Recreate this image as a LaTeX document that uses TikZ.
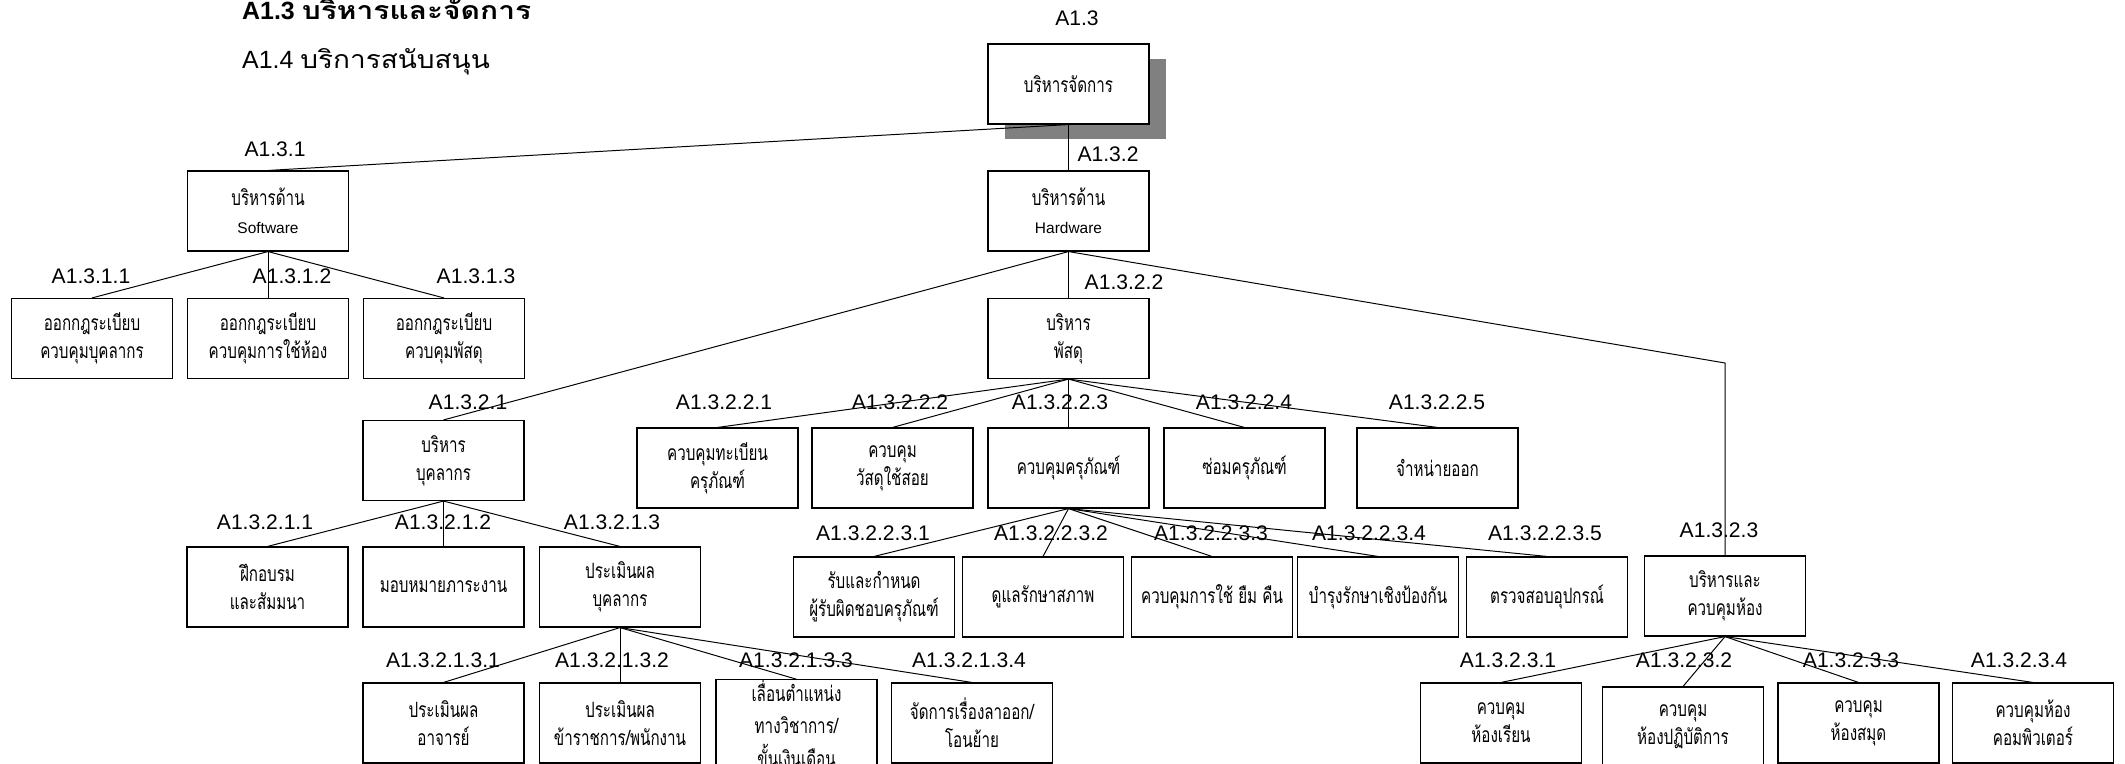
\documentclass[tikz,border=0pt]{standalone}
\usepackage{fontspec}
\setmainfont{Liberation Sans}
\newfontfamily\titlethai[Script=Thai,FakeStretch=1.12]{Loma}
\newfontfamily\titlethaiwide[Script=Thai,FakeStretch=1.2]{Loma}
\newfontfamily\boxthai[Script=Thai,FakeStretch=0.72]{Loma}
\usetikzlibrary{
    positioning,
    shadows
}

\begin{document}
\begin{tikzpicture}[
  x=0.05cm,
  y=-0.05cm,
  every node/.style={align=center},
  unitbox/.style={
    draw,
    line width=1.6pt,
    fill=white,
    minimum width=8.05cm,
    minimum height=4cm,
    inner sep=0pt,
    font=\boxthai\fontsize{30}{40}\selectfont
  },
  codelabel/.style={
    inner sep=0pt,
    font=\fontsize{30}{36}\selectfont
  },
  headline/.style={
    anchor=base west,
    inner sep=0pt,
    font=\fontsize{35.5}{42}\selectfont
  },
  wire/.style={line width=1.4pt}
]
  \useasboundingbox (0,0) rectangle (2125,763);

  % Headings at the top left.
  \node[headline] (headmgmt) at (242,19) {\bfseries A1.3 {\titlethaiwide\bfseries บริหารและจัดการ}};
  \node[headline] (headsupport) at (242,68) {A1.4 {\titlethai บริการสนับสนุน}};

  % Root and the two main branches.
  \node[unitbox, drop shadow={shadow xshift=0.85cm, shadow yshift=-0.75cm, fill=gray, opacity=1}] (mgmt) at (1068.5,84) {บริหารจัดการ};
  \node[codelabel] (lmgmt) at (1077,18) {A1.3};
  \node[unitbox] (sw) at (268,211) {บริหารด้าน\\{\normalfont\fontsize{22}{40}\selectfont Software}};
  \node[codelabel] (lsw) at (275,149) {A1.3.1};
  \node[unitbox] (hw) at (1068.5,211) {บริหารด้าน\\{\normalfont\fontsize{22}{40}\selectfont Hardware}};
  \node[codelabel] (lhw) at (1108,154) {A1.3.2};

  \draw[wire] (mgmt.south) -- (sw.north);
  \draw[wire] (mgmt.south) -- (hw.north);

  % Software rules.
  \node[unitbox] (swa) at (92,338.5) {ออกกฎระเบียบ\\ควบคุมบุคลากร};
  \node[unitbox] (swb) at (268,338.5) {ออกกฎระเบียบ\\ควบคุมการใช้ห้อง};
  \node[unitbox] (swc) at (444,338.5) {ออกกฎระเบียบ\\ควบคุมพัสดุ};
  \node[codelabel] (lswa) at (91,276) {A1.3.1.1};
  \node[codelabel] (lswb) at (292,276) {A1.3.1.2};
  \node[codelabel] (lswc) at (476,276) {A1.3.1.3};
  \draw[wire] (sw.south) -- (swa.north);
  \draw[wire] (sw.south) -- (swb.north);
  \draw[wire] (sw.south) -- (swc.north);

  % Hardware: personnel, assets, rooms.
  \node[unitbox] (per) at (443.5,460.5) {บริหาร\\บุคลากร};
  \node[codelabel] (lper) at (468,402) {A1.3.2.1};
  \node[unitbox] (asset) at (1068.5,338.5) {บริหาร\\พัสดุ};
  \node[codelabel] (lasset) at (1124,282) {A1.3.2.2};
  \node[unitbox] (room) at (1725,596) {บริหารและ\\ควบคุมห้อง};
  \node[codelabel] (lroom) at (1719,530) {A1.3.2.3};
  \coordinate (roombend) at (1725,363);

  \draw[wire] (hw.south) -- (per.north);
  \draw[wire] (hw.south) -- (asset.north);
  \draw[wire] (hw.south) -- (roombend) -- (room.north);

  % Personnel tasks.
  \node[unitbox] (pera) at (267.5,587) {ฝึกอบรม\\และสัมมนา};
  \node[unitbox] (perb) at (443.5,587) {มอบหมายภาระงาน};
  \node[unitbox] (perc) at (620,587) {ประเมินผล\\บุคลากร};
  \node[codelabel] (lpera) at (265,522) {A1.3.2.1.1};
  \node[codelabel] (lperb) at (443,522) {A1.3.2.1.2};
  \node[codelabel] (lperc) at (612,522) {A1.3.2.1.3};
  \foreach \k in {pera,perb,perc}
    \draw[wire] (per.south) -- (\k.north);

  \node[unitbox] (evala) at (443.5,723) {ประเมินผล\\อาจารย์};
  \node[unitbox] (evalb) at (620,723) {ประเมินผล\\ข้าราชการ/พนักงาน};
  \node[unitbox] (evalc) at (796.5,723) {เลื่อนตำแหน่ง\\[6pt]ทางวิชาการ/\\[6pt]ขั้นเงินเดือน};
  \node[unitbox] (evald) at (972,723) {จัดการเรื่องลาออก/\\โอนย้าย};
  \node[codelabel] (levala) at (443,660) {A1.3.2.1.3.1};
  \node[codelabel] (levalb) at (612,660) {A1.3.2.1.3.2};
  \node[codelabel] (levalc) at (796,660) {A1.3.2.1.3.3};
  \node[codelabel] (levald) at (969,660) {A1.3.2.1.3.4};
  \foreach \k in {evala,evalb,evalc,evald}
    \draw[wire] (perc.south) -- (\k.north);

  % Asset tasks.
  \node[unitbox] (asseta) at (717.5,468) {ควบคุมทะเบียน\\ครุภัณฑ์};
  \node[unitbox] (assetb) at (892.5,468) {ควบคุม\\วัสดุใช้สอย};
  \node[unitbox] (assetc) at (1068.5,468) {ควบคุมครุภัณฑ์};
  \node[unitbox] (assetd) at (1244.5,468) {ซ่อมครุภัณฑ์};
  \node[unitbox] (assete) at (1437.5,468) {จำหน่ายออก};
  \node[codelabel] (lasseta) at (724,402) {A1.3.2.2.1};
  \node[codelabel] (lassetb) at (900,402) {A1.3.2.2.2};
  \node[codelabel] (lassetc) at (1060,402) {A1.3.2.2.3};
  \node[codelabel] (lassetd) at (1244,402) {A1.3.2.2.4};
  \node[codelabel] (lassete) at (1437,402) {A1.3.2.2.5};
  \foreach \k in {asseta,assetb,assetc,assetd,assete}
    \draw[wire] (asset.south) -- (\k.north);

  \node[unitbox] (equipa) at (874,597) {รับและกำหนด\\ผู้รับผิดชอบครุภัณฑ์};
  \node[unitbox] (equipb) at (1043,597) {ดูแลรักษาสภาพ};
  \node[unitbox] (equipc) at (1212,597) {ควบคุมการใช้ ยืม คืน};
  \node[unitbox] (equipd) at (1378,597) {บำรุงรักษาเชิงป้องกัน};
  \node[unitbox] (equipe) at (1547,597) {ตรวจสอบอุปกรณ์};
  \node[codelabel] (lequipa) at (873,533) {A1.3.2.2.3.1};
  \node[codelabel] (lequipb) at (1051,533) {A1.3.2.2.3.2};
  \node[codelabel] (lequipc) at (1211,533) {A1.3.2.2.3.3};
  \node[codelabel] (lequipd) at (1369,533) {A1.3.2.2.3.4};
  \node[codelabel] (lequipe) at (1545,533) {A1.3.2.2.3.5};
  \foreach \k in {equipa,equipb,equipc,equipd,equipe}
    \draw[wire] (assetc.south) -- (\k.north);

  % Room tasks.
  \node[unitbox] (rooma) at (1501,723) {ควบคุม\\ห้องเรียน};
  \node[unitbox] (roomb) at (1683,727) {ควบคุม\\ห้องปฏิบัติการ};
  \node[unitbox] (roomc) at (1858.5,723) {ควบคุม\\ห้องสมุด};
  \node[unitbox] (roomd) at (2033,723) {ควบคุมห้อง\\คอมพิวเตอร์};
  \node[codelabel] (lrooma) at (1508,660) {A1.3.2.3.1};
  \node[codelabel] (lroomb) at (1684,660) {A1.3.2.3.2};
  \node[codelabel] (lroomc) at (1851,660) {A1.3.2.3.3};
  \node[codelabel] (lroomd) at (2019,660) {A1.3.2.3.4};
  \foreach \k in {rooma,roomb,roomc,roomd}
    \draw[wire] (room.south) -- (\k.north);
\end{tikzpicture}
\end{document}
